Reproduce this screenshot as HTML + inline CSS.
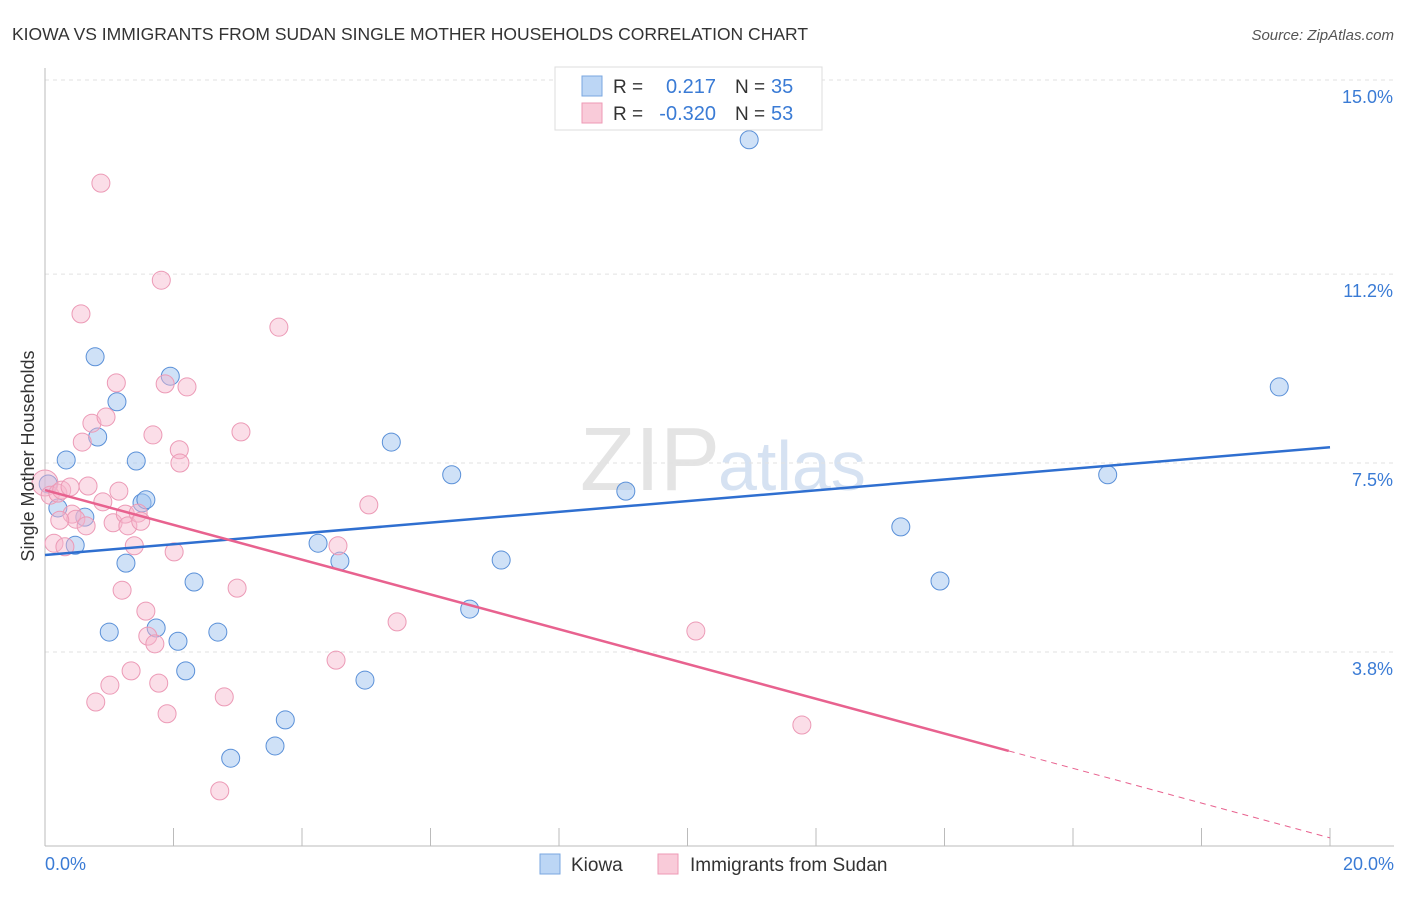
<!DOCTYPE html>
<html><head><meta charset="utf-8"><style>
body{margin:0;background:#fff;font-family:"Liberation Sans",sans-serif}
svg text{font-family:"Liberation Sans",sans-serif}
</style></head><body>
<svg id="chart" width="1406" height="892">
<text x="12" y="40" font-size="17.5" fill="#333">KIOWA VS IMMIGRANTS FROM SUDAN SINGLE MOTHER HOUSEHOLDS CORRELATION CHART</text>
<text x="1394" y="40" font-size="15" fill="#555" text-anchor="end" font-style="italic">Source: ZipAtlas.com</text>
<text x="720" y="490" font-size="90" fill="#e4e4e4" text-anchor="end" font-family="Liberation Serif">ZIP</text>
<text x="718" y="490" font-size="70" fill="#d6e2f2">atlas</text>
<g id="grid"></g><g id="axes"></g><g id="marks"></g><g id="lines"></g>
<text transform="translate(34,456) rotate(-90)" font-size="18" fill="#333" text-anchor="middle">Single Mother Households</text>
<text x="45" y="870" font-size="18" fill="#3a7bd5">0.0%</text>
<text x="1394" y="870" font-size="18" fill="#3a7bd5" text-anchor="end">20.0%</text>
<g>
<rect x="555" y="67" width="267" height="63" fill="#fff" stroke="#ddd"/>
<rect x="582" y="76" width="20" height="20" fill="#bcd6f5" stroke="#7aa7e0"/>
<rect x="582" y="103" width="20" height="20" fill="#f9cbd9" stroke="#ee9ab5"/>
<text x="613" y="93" font-size="19" fill="#333">R = </text><text x="716" y="93" font-size="20" fill="#3a7bd5" text-anchor="end">0.217</text>
<text x="735" y="93" font-size="19" fill="#333">N = </text><text x="771" y="93" font-size="20" fill="#3a7bd5">35</text>
<text x="613" y="120" font-size="19" fill="#333">R = </text><text x="716" y="120" font-size="20" fill="#3a7bd5" text-anchor="end">-0.320</text>
<text x="735" y="120" font-size="19" fill="#333">N = </text><text x="771" y="120" font-size="20" fill="#3a7bd5">53</text>
</g>
<g>
<rect x="540" y="854" width="20" height="20" fill="#bcd6f5" stroke="#7aa7e0"/>
<text x="571" y="871" font-size="19" fill="#333">Kiowa</text>
<rect x="658" y="854" width="20" height="20" fill="#f9cbd9" stroke="#ee9ab5"/>
<text x="690" y="871" font-size="19" fill="#333">Immigrants from Sudan</text>
</g>
</svg>
<script>
const yTicks=[3.8,7.5,11.2,15.0];
const yTickLabels=["3.8%","7.5%","11.2%","15.0%"];
const kiowaX=[0.05,0.2,0.33,0.47,0.62,0.78,0.82,1.0,1.12,1.26,1.42,1.51,1.57,1.73,1.95,2.07,2.19,2.32,2.69,2.89,3.58,3.74,4.25,4.59,4.98,5.39,6.33,6.61,7.1,9.04,10.96,13.32,13.93,16.54,19.21];
const kiowaY=[7.09,6.62,7.56,5.89,6.44,9.58,8.01,4.19,8.7,5.54,7.54,6.72,6.78,4.27,9.2,4.01,3.43,5.17,4.19,1.72,1.96,2.47,5.93,5.58,3.25,7.91,7.27,4.64,5.6,6.95,13.83,6.25,5.19,7.27,8.99];
const sudanX=[0,0.08,0.14,0.2,0.26,0.31,0.39,0.42,0.48,0.56,0.58,0.64,0.67,0.73,0.79,0.87,0.9,0.95,1.01,1.06,1.11,1.15,1.2,1.25,1.29,1.34,1.39,1.45,1.49,1.57,1.6,1.68,1.71,1.77,1.81,1.87,1.9,2.01,2.09,2.1,2.21,2.72,2.79,2.99,3.05,3.64,4.53,4.56,5.04,5.48,10.13,11.78,0.23];
const sudanY=[7.11,6.87,5.93,6.91,6.97,5.86,7.03,6.5,6.4,10.42,7.91,6.27,7.05,8.28,2.82,12.98,6.74,8.4,3.15,6.33,9.07,6.95,5.01,6.5,6.27,3.43,5.88,6.52,6.36,4.6,4.11,8.05,3.96,3.19,11.08,9.05,2.59,5.76,7.76,7.5,8.99,1.08,2.92,5.05,8.11,10.16,3.64,5.88,6.68,4.39,4.21,2.37,6.38];
const kiowaTrend=[5.70,7.81];
const sudanTrend=[6.97,0.16];
const sudanSolidEnd=15.0;
const NS="http://www.w3.org/2000/svg";
const X=v=>45+v/20*1285;
const Y=v=>80+(15-v)*51.07;
function mk(t,a,p){const e=document.createElementNS(NS,t);for(const k in a)e.setAttribute(k,a[k]);p.appendChild(e);return e;}
const grid=document.getElementById('grid'),axes=document.getElementById('axes'),marks=document.getElementById('marks'),lines=document.getElementById('lines');
yTicks.forEach((t,i)=>{
 const g=mk('line',{x1:45,x2:1394,y1:Y(t),y2:Y(t),stroke:'#e2e2e2','stroke-dasharray':'4,4'},grid);
 
 
 const l=mk('text',{x:1393,y:Y(t)+23,'font-size':18,fill:'#3a7bd5','text-anchor':'end'},axes);
 l.textContent=yTickLabels[i];
 
 
});
const ya=mk('line',{x1:45,x2:45,y1:68,y2:846,stroke:'#bbb'},axes);


const xa=mk('line',{x1:45,x2:1394,y1:846,y2:846,stroke:'#bbb'},axes);


for(let i=1;i<=10;i++){const t=mk('line',{x1:X(i*2),x2:X(i*2),y1:828,y2:846,stroke:'#bbb'},axes);
 
 }
kiowaX.forEach((v,i)=>{const c=mk('circle',{cx:X(v),cy:Y(kiowaY[i]),r:9,fill:'rgba(160,196,240,0.5)',stroke:'#5a90d8','stroke-width':1},marks);
 
 });
sudanX.forEach((v,i)=>{const c=mk('circle',{cx:X(v),cy:Y(sudanY[i]),r:i==0?13:9,fill:'rgba(246,182,204,0.45)',stroke:'#ec9ab6','stroke-width':1},marks);
 
 });
const kl=mk('line',{x1:X(0),y1:Y(kiowaTrend[0]),x2:X(20),y2:Y(kiowaTrend[1]),stroke:'#2f6fd0','stroke-width':2.5},lines);


const sAt=x=>sudanTrend[0]+(sudanTrend[1]-sudanTrend[0])*x/20;
const sl=mk('line',{x1:X(0),y1:Y(sAt(0)),x2:X(sudanSolidEnd),y2:Y(sAt(sudanSolidEnd)),stroke:'#e8628f','stroke-width':2.5},lines);


const sd=mk('line',{x1:X(sudanSolidEnd),y1:Y(sAt(sudanSolidEnd)),x2:X(20),y2:Y(sAt(20)),stroke:'#e8628f','stroke-width':1,'stroke-dasharray':'6,5'},lines);


</script>
</body></html>
